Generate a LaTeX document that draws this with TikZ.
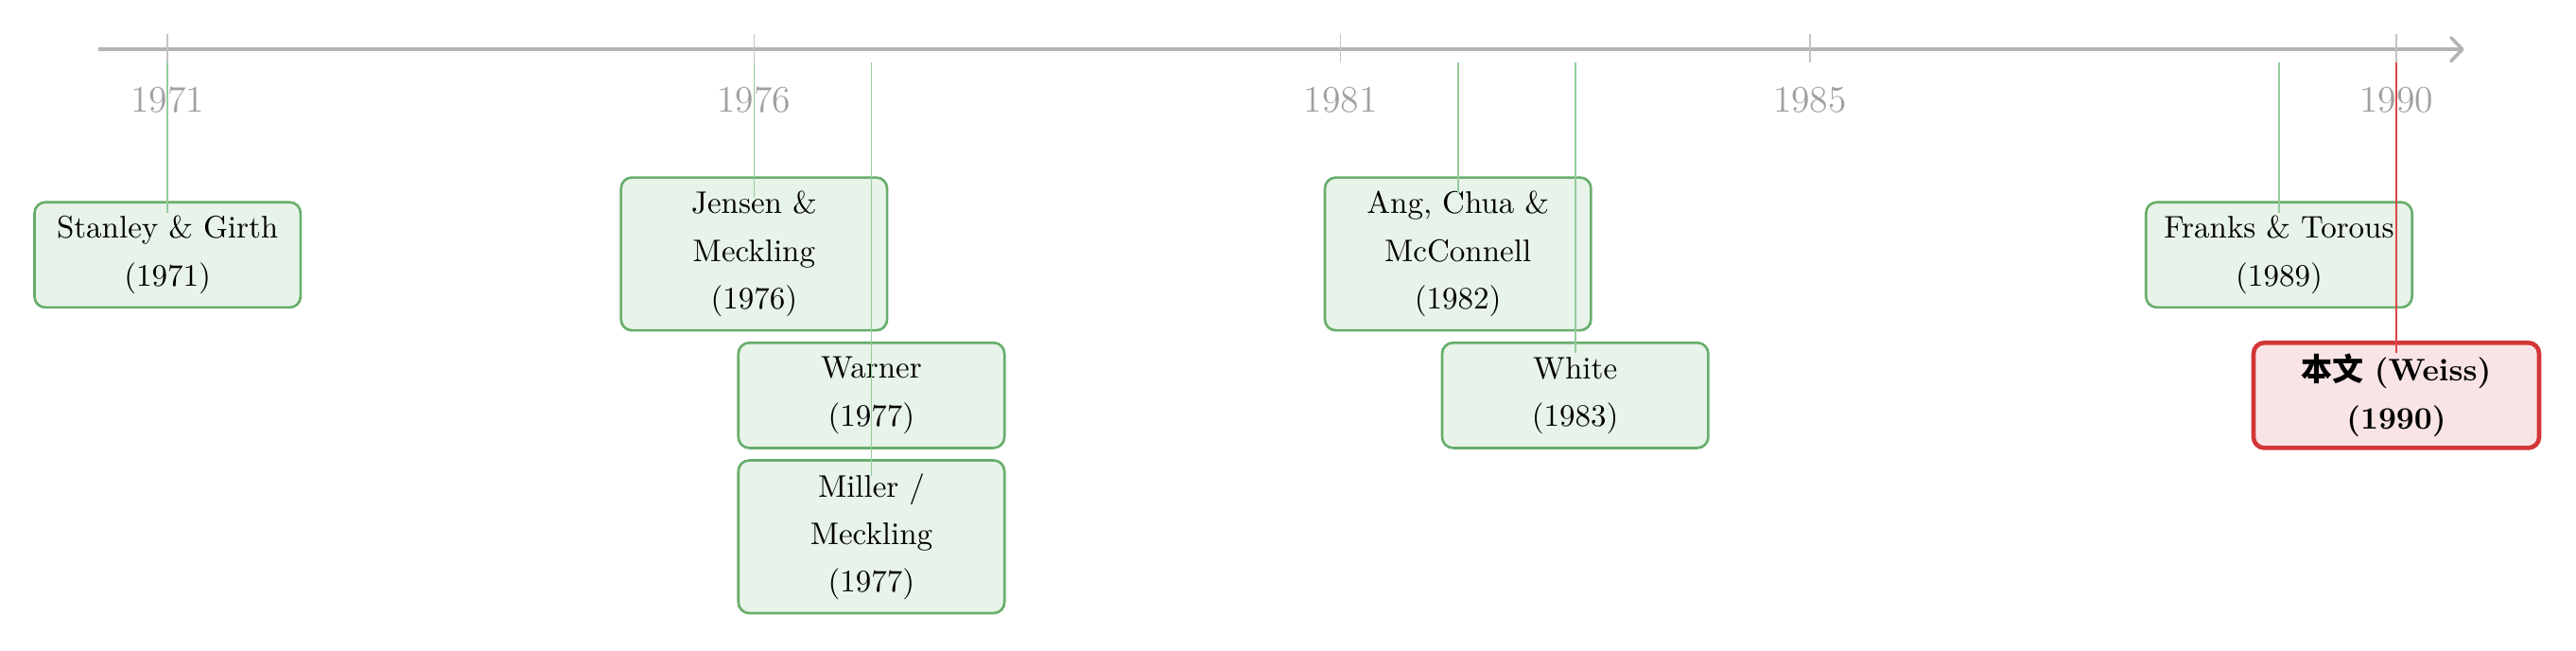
\documentclass[tikz,border=0pt]{standalone}
\usepackage{fontspec}
\newfontfamily\cjk{Noto Sans CJK SC}
\usetikzlibrary{arrows.meta}
\definecolor{axisgray}{HTML}{B4B4B4}
\definecolor{tickgray}{HTML}{C4C4C4}
\definecolor{yeargray}{HTML}{A0A0A0}
\definecolor{evgreen}{HTML}{68AE6C}
\definecolor{evfill}{HTML}{E8F3E9}
\definecolor{lngreen}{HTML}{94CC9C}
\definecolor{evred}{HTML}{D23636}
\definecolor{redfill}{HTML}{F8E4E5}
\definecolor{lnred}{HTML}{E04545}
\tikzset{
  evbox/.style={draw=evgreen, fill=evfill, rounded corners=3.5pt, line width=0.8pt,
    align=center, text width=2.8cm, inner xsep=0.098cm, inner ysep=2pt,
    font=\fontsize{10}{15.2}\selectfont, minimum height=1.184cm},
  evtall/.style={evbox, minimum height=1.72cm},
  mainbox/.style={evbox, draw=evred, fill=redfill, line width=1.4pt, text width=3.02cm},
  tickline/.style={tickgray, line width=0.5pt},
  yearlab/.style={text=yeargray, font=\fontsize{12}{14}\selectfont, inner sep=0pt},
  conn/.style={lngreen, line width=0.5pt},
  connred/.style={lnred, line width=0.6pt}
}
\begin{document}
\begin{tikzpicture}[x=1cm,y=1cm]
\useasboundingbox (0,0) rectangle (29.0,-7.314);
% axis
\coordinate (axL) at (1.11,-0.555);
\coordinate (axR) at (27.74,-0.555);
\draw[axisgray, line width=1.1pt, -{Straight Barb[length=3.6pt,width=7.5pt,round]}] (axL) -- (axR);
% ticks and labels
\foreach \yr/\xx in {1971/1.886, 1976/8.489, 1981/15.092, 1985/20.375, 1990/26.977}{
  \draw[tickline] (\xx,-0.383) -- (\xx,-0.703);
  \node[yearlab] (lab\yr) at (\xx,-1.128) {\yr};
}
% anchor points just below the axis
\coordinate (c1971) at (1.886,-0.703);
\coordinate (c1976) at (8.489,-0.703);
\coordinate (c1977) at (9.810,-0.703);
\coordinate (c1982) at (16.413,-0.703);
\coordinate (c1983) at (17.733,-0.703);
\coordinate (c1989) at (25.657,-0.703);
\coordinate (c1990) at (26.977,-0.703);
% event boxes
\node[evbox]  (stanley) at (1.886,-2.867)  {Stanley \& Girth\\(1971)};
\node[evtall] (jensen)  at (8.489,-2.857)  {Jensen \&\\Meckling\\(1976)};
\node[evbox]  (warner)  at (9.810,-4.448)  {Warner\\(1977)};
\node[evtall] (miller)  at (9.810,-6.039)  {Miller /\\Meckling\\(1977)};
\node[evtall] (ang)     at (16.413,-2.857) {Ang, Chua \&\\McConnell\\(1982)};
\node[evbox]  (white)   at (17.733,-4.448) {White\\(1983)};
\node[evbox]  (franks)  at (25.657,-2.867) {Franks \& Torous\\(1989)};
\node[mainbox] (weiss)  at (26.977,-4.448) {\bfseries{\cjk 本文} (Weiss)\\(1990)};
% connectors
\draw[conn] (c1971) -- ([yshift=-0.13cm]stanley.north);
\draw[conn] (c1976) -- ([yshift=-0.24cm]jensen.north);
\draw[conn] (c1977) -- ([yshift=-0.13cm]warner.north);
\draw[conn] (c1977) -- ([yshift=-0.19cm]miller.north);
\draw[conn] (c1982) -- ([yshift=-0.19cm]ang.north);
\draw[conn] (c1983) -- ([yshift=-0.13cm]white.north);
\draw[conn] (c1989) -- ([yshift=-0.13cm]franks.north);
\draw[connred] (c1990) -- ([yshift=-0.14cm]weiss.north);
\end{tikzpicture}
\end{document}
